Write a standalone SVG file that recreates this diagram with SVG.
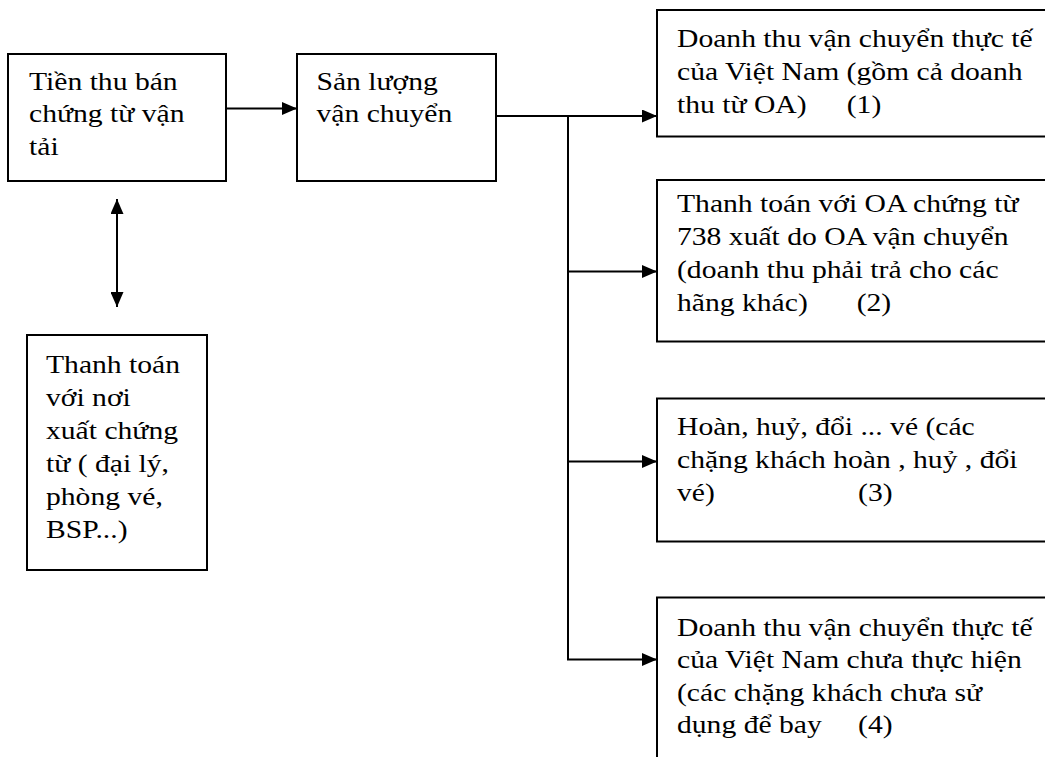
<svg xmlns="http://www.w3.org/2000/svg" width="1045" height="757" viewBox="0 0 1045 757">
<style>
.box{fill:#fff;stroke:#000;stroke-width:2}
.t{font-family:"Liberation Serif","Times New Roman",serif;font-size:26px;fill:#000}
.c{fill:none;stroke:#000;stroke-width:2}
</style>
<defs>
<marker id="ah" markerUnits="userSpaceOnUse" markerWidth="15" markerHeight="13" refX="15" refY="6.5" orient="auto-start-reverse">
<path d="M0,0 L15,6.5 L0,13 z" fill="#000"/>
</marker>
</defs>
<rect width="1045" height="757" fill="#fff"/>
<g id="connectors">
<line class="c" x1="226" y1="108.5" x2="297" y2="108.5" marker-end="url(#ah)"/>
<line class="c" x1="496" y1="116" x2="657" y2="116" marker-end="url(#ah)"/>
<line class="c" x1="568" y1="116" x2="568" y2="660"/>
<line class="c" x1="567" y1="271.5" x2="657" y2="271.5" marker-end="url(#ah)"/>
<line class="c" x1="567" y1="461.5" x2="657" y2="461.5" marker-end="url(#ah)"/>
<line class="c" x1="567" y1="659.5" x2="657" y2="659.5" marker-end="url(#ah)"/>
<line class="c" x1="117" y1="199" x2="117" y2="307" marker-start="url(#ah)" marker-end="url(#ah)"/>
</g>
<g id="n1">
<rect class="box" x="8" y="54" width="218" height="127"/>
<text class="t" transform="translate(29,0) scale(1.14,1)"><tspan x="0" y="90">Tiền thu bán</tspan><tspan x="0" y="122.5">chứng từ vận</tspan><tspan x="0" y="155">tải</tspan></text>
</g>
<g id="n2">
<rect class="box" x="297" y="54" width="199" height="127"/>
<text class="t" transform="translate(316.5,0) scale(1.14,1)"><tspan x="0" y="90">Sản lượng</tspan><tspan x="0" y="122.5">vận chuyển</tspan></text>
</g>
<g id="n3">
<rect class="box" x="657" y="10" width="420" height="126.5"/>
<text class="t" transform="translate(677,0) scale(1.14,1)"><tspan x="0" y="47">Doanh thu vận chuyển thực tế</tspan><tspan x="0" y="80">của Việt Nam (gồm cả doanh</tspan><tspan x="0" y="113">thu từ OA)</tspan><tspan x="148.9" y="113">(1)</tspan></text>
</g>
<g id="n4">
<rect class="box" x="657" y="180" width="420" height="161.5"/>
<text class="t" transform="translate(677,0) scale(1.14,1)"><tspan x="0" y="212">Thanh toán với OA chứng từ</tspan><tspan x="0" y="245">738 xuất do OA vận chuyển</tspan><tspan x="0" y="278">(doanh thu phải trả cho các</tspan><tspan x="0" y="311.5">hãng khác)</tspan><tspan x="157.6" y="311.5">(2)</tspan></text>
</g>
<g id="n5">
<rect class="box" x="657" y="398.5" width="420" height="143"/>
<text class="t" transform="translate(677,0) scale(1.14,1)"><tspan x="0" y="435">Hoàn, huỷ, đổi ... vé (các</tspan><tspan x="0" y="468">chặng khách hoàn , huỷ , đổi</tspan><tspan x="0" y="501.5">vé)</tspan><tspan x="158.8" y="501.5">(3)</tspan></text>
</g>
<g id="n6">
<rect class="box" x="657" y="597.5" width="420" height="200"/>
<text class="t" transform="translate(677,0) scale(1.14,1)"><tspan x="0" y="636">Doanh thu vận chuyển thực tế</tspan><tspan x="0" y="668.5">của Việt Nam chưa thực hiện</tspan><tspan x="0" y="701.5">(các chặng khách chưa sử</tspan><tspan x="0" y="733.5">dụng để bay</tspan><tspan x="158.8" y="733.5">(4)</tspan></text>
</g>
<g id="n7">
<rect class="box" x="27" y="335" width="180" height="235"/>
<text class="t" transform="translate(46,0) scale(1.14,1)"><tspan x="0" y="373">Thanh toán</tspan><tspan x="0" y="406">với nơi</tspan><tspan x="0" y="439">xuất chứng</tspan><tspan x="0" y="472">từ ( đại lý,</tspan><tspan x="0" y="505">phòng vé,</tspan><tspan x="0" y="538">BSP...)</tspan></text>
</g>
</svg>
